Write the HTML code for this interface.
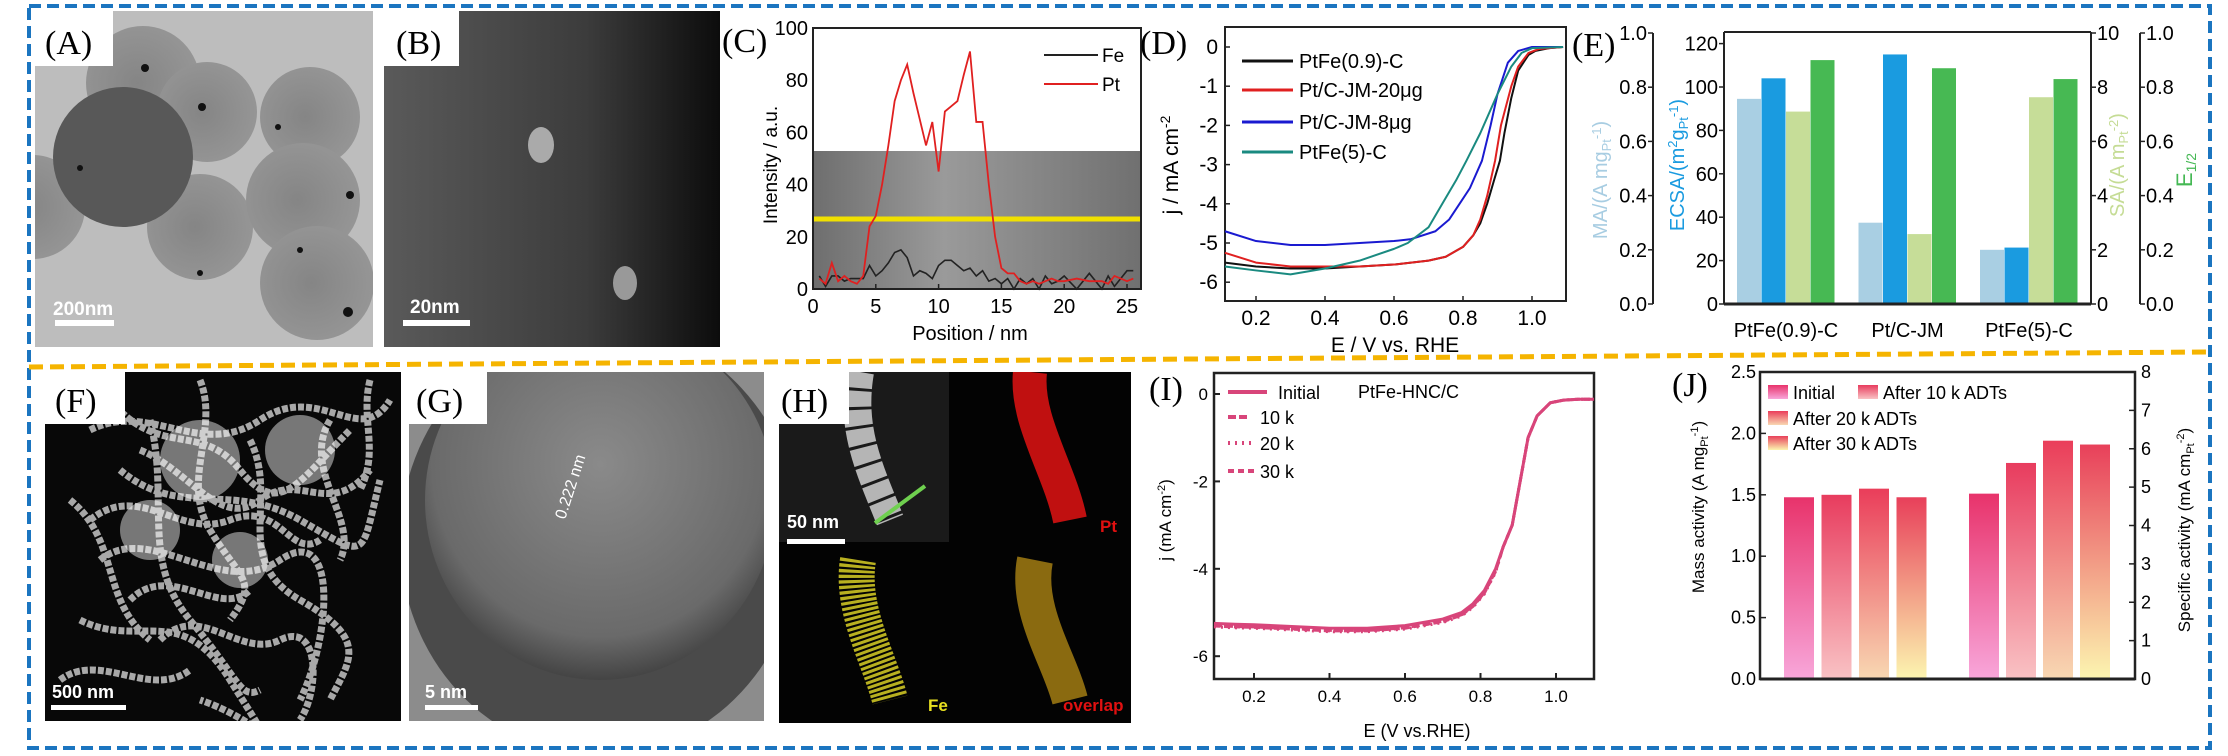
<!DOCTYPE html>
<html><head><meta charset="utf-8"><style>
html,body{margin:0;padding:0;background:#fff;}
svg{display:block;font-family:"Liberation Sans",sans-serif;}
.lbl{font-family:"Liberation Serif",serif;font-size:34px;}
</style></head><body>
<svg id="fig" width="2228" height="756" viewBox="0 0 2228 756">
<defs>
<clipPath id="cA"><rect x="35" y="11" width="338" height="336"/></clipPath>
<clipPath id="cB"><rect x="384" y="11" width="336" height="336"/></clipPath>
<clipPath id="cF"><rect x="45" y="372" width="356" height="349"/></clipPath>
<clipPath id="cG"><rect x="409" y="372" width="355" height="349"/></clipPath>
<clipPath id="cH"><rect x="779" y="372" width="352" height="351"/></clipPath>
<radialGradient id="gA" cx="0.45" cy="0.5" r="0.7"><stop offset="0" stop-color="#858585"/><stop offset="1" stop-color="#9a9a9a"/></radialGradient>
<linearGradient id="gB" x1="0" x2="1"><stop offset="0" stop-color="#5a5a5a"/><stop offset="0.6" stop-color="#3c3c3c"/><stop offset="1" stop-color="#0c0c0c"/></linearGradient>
<radialGradient id="gG" cx="0.5" cy="0.4" r="0.6"><stop offset="0" stop-color="#8a8a8a"/><stop offset="0.8" stop-color="#6a6a6a"/><stop offset="1" stop-color="#444"/></radialGradient>
<linearGradient id="gC" x1="0" x2="1"><stop offset="0" stop-color="#6e6e6e"/><stop offset="0.4" stop-color="#9a9a9a"/><stop offset="1" stop-color="#707070"/></linearGradient>
<linearGradient id="b0" x1="0" y1="0" x2="0" y2="1"><stop offset="0" stop-color="#e8336b"/><stop offset="1" stop-color="#f8a6da"/></linearGradient>
<linearGradient id="b1" x1="0" y1="0" x2="0" y2="1"><stop offset="0" stop-color="#e83c5e"/><stop offset="1" stop-color="#f9c2c4"/></linearGradient>
<linearGradient id="b2" x1="0" y1="0" x2="0" y2="1"><stop offset="0" stop-color="#ea3d5a"/><stop offset="1" stop-color="#f8d8b2"/></linearGradient>
<linearGradient id="b3" x1="0" y1="0" x2="0" y2="1"><stop offset="0" stop-color="#e8405a"/><stop offset="1" stop-color="#fcf5b0"/></linearGradient>
</defs>

<rect x="29" y="6" width="2181" height="742" fill="none" stroke="#1b75c0" stroke-width="4" stroke-dasharray="12 6"/>
<line x1="29" y1="367" x2="2210" y2="352" stroke="#f5b400" stroke-width="5" stroke-dasharray="14 7"/>

<!-- A -->
<g>
<g clip-path="url(#cA)">
<rect x="35" y="11" width="338" height="336" fill="#bdbdbd"/>
<circle cx="143" cy="83" r="57" fill="url(#gA)"/><circle cx="207" cy="112" r="50" fill="url(#gA)"/>
<circle cx="310" cy="117" r="50" fill="url(#gA)"/><circle cx="33" cy="207" r="52" fill="url(#gA)"/>
<circle cx="200" cy="227" r="53" fill="url(#gA)"/><circle cx="303" cy="200" r="57" fill="url(#gA)"/>
<circle cx="317" cy="283" r="57" fill="url(#gA)"/><circle cx="123" cy="157" r="70" fill="#585858"/>
<g fill="#111"><circle cx="145" cy="68" r="4"/><circle cx="202" cy="107" r="4"/><circle cx="278" cy="127" r="3"/><circle cx="80" cy="168" r="3"/><circle cx="350" cy="195" r="4"/><circle cx="348" cy="312" r="5"/><circle cx="300" cy="250" r="3"/><circle cx="200" cy="273" r="3"/></g>
</g>
<rect x="35" y="11" width="78" height="55" fill="#fff"/>
<text class="lbl" x="45" y="54">(A)</text>
<rect x="55" y="320" width="59" height="6" fill="#fff"/>
<text x="53" y="315" fill="#fff" font-size="19" font-weight="bold">200nm</text>
</g>
<!-- B -->
<g>
<g clip-path="url(#cB)">
<rect x="384" y="11" width="336" height="336" fill="url(#gB)"/>
<ellipse cx="541" cy="145" rx="13" ry="18" fill="#aaa"/><ellipse cx="625" cy="283" rx="12" ry="17" fill="#999"/>
</g>
<rect x="384" y="11" width="75" height="55" fill="#fff"/>
<text class="lbl" x="396" y="54">(B)</text>
<rect x="403" y="320" width="67" height="6" fill="#fff"/>
<text x="410" y="313" fill="#fff" font-size="19" font-weight="bold">20nm</text>
</g>

<!-- C -->
<g id="panelC">
<text class="lbl" x="722" y="52">(C)</text>
<rect x="813" y="151" width="328" height="138" fill="url(#gC)"/>
<line x1="813" y1="219" x2="1141" y2="219" stroke="#f0e000" stroke-width="5"/>
<rect x="813" y="28" width="328" height="261" fill="none" stroke="#222" stroke-width="2"/>
<text transform="translate(777,165) rotate(-90)" text-anchor="middle" font-size="19">Intensity / a.u.</text>
<text x="970" y="340" text-anchor="middle" font-size="20">Position / nm</text>
<line x1="1044" y1="55" x2="1098" y2="55" stroke="#222" stroke-width="2"/>
<text x="1102" y="62" font-size="19">Fe</text>
<line x1="1044" y1="84" x2="1098" y2="84" stroke="#e02020" stroke-width="2"/>
<text x="1102" y="91" font-size="19">Pt</text>
</g>

<!-- D -->
<g id="panelD">
<text class="lbl" x="1140" y="54">(D)</text>
<rect x="1225" y="27" width="341" height="274" fill="none" stroke="#222" stroke-width="2"/>
<text transform="translate(1178,165) rotate(-90)" text-anchor="middle" font-size="21">j / mA cm<tspan dy="-8" font-size="14">-2</tspan></text>
<text x="1395" y="352" text-anchor="middle" font-size="21">E / V vs. RHE</text>
</g>

<!-- E -->
<g id="panelE">
<text class="lbl" x="1572" y="56">(E)</text>
<line x1="1724" y1="32" x2="2091" y2="32" stroke="#222" stroke-width="2"/>
<line x1="1724" y1="32" x2="1724" y2="304" stroke="#222" stroke-width="2"/>
<text transform="translate(1607,180) rotate(-90)" text-anchor="middle" font-size="20" fill="#a8cde2">MA/(A mg<tspan font-size="13" dy="4">Pt</tspan><tspan font-size="13" dy="-10">-1</tspan><tspan dy="6">)</tspan></text>
<text transform="translate(1684,165) rotate(-90)" text-anchor="middle" font-size="20" fill="#1a9be0">ECSA/(m<tspan font-size="13" dy="-7">2</tspan><tspan dy="7">g</tspan><tspan font-size="13" dy="4">Pt</tspan><tspan font-size="13" dy="-10">-1</tspan><tspan dy="6">)</tspan></text>
<text transform="translate(2124,165) rotate(-90)" text-anchor="middle" font-size="20" fill="#c5dc95">SA/(A m<tspan font-size="13" dy="4">Pt</tspan><tspan font-size="13" dy="-10">-2</tspan><tspan dy="6">)</tspan></text>
<text transform="translate(2192,170) rotate(-90)" text-anchor="middle" font-size="22" fill="#45b854">E<tspan font-size="14" dy="4">1/2</tspan></text>
</g>

<!-- F -->
<g>
<g clip-path="url(#cF)">
<rect x="45" y="372" width="356" height="349" fill="#080808"/>
<g fill="none" stroke="#d0d0d0" stroke-width="7" stroke-dasharray="6 2" opacity="0.8">
<path d="M90 430 C150 400 200 460 260 420 S360 450 390 400"/><path d="M120 470 C180 520 230 480 300 520 S360 560 380 480"/>
<path d="M100 560 C150 520 220 600 280 560 S330 640 300 700"/><path d="M80 620 C140 650 180 600 230 680 S260 720 200 700"/>
<path d="M150 420 C170 500 140 560 190 620 S240 700 260 690"/><path d="M250 440 C280 500 230 560 300 600 S350 660 330 700"/>
<path d="M70 500 C120 540 100 600 150 640"/><path d="M330 420 C300 470 360 520 340 560"/>
<path d="M110 400 C160 460 200 420 240 470 S300 480 350 430"/><path d="M140 450 C190 470 220 530 260 500 S330 520 370 470"/>
<path d="M90 520 C140 480 180 540 230 520 S290 560 320 540"/><path d="M130 600 C170 560 220 620 250 590"/>
<path d="M160 640 C200 600 240 660 280 640 S320 690 300 720"/><path d="M60 680 C100 650 150 700 190 670"/>
<path d="M200 380 C220 430 180 480 210 530 S260 580 230 620"/><path d="M370 380 C360 420 380 450 360 490"/>
</g>
<g fill="#fff" opacity="0.45"><circle cx="200" cy="460" r="40"/><circle cx="300" cy="450" r="35"/><circle cx="150" cy="530" r="30"/><circle cx="240" cy="560" r="28"/></g>
</g>
<rect x="45" y="372" width="80" height="52" fill="#fff"/>
<text class="lbl" x="55" y="412">(F)</text>
<rect x="51" y="705" width="75" height="5" fill="#fff"/>
<text x="52" y="698" fill="#fff" font-size="18" font-weight="bold">500 nm</text>
</g>
<!-- G -->
<g>
<g clip-path="url(#cG)">
<rect x="409" y="372" width="355" height="349" fill="#8c8c8c"/>
<ellipse cx="600" cy="540" rx="200" ry="215" fill="#4a4a4a"/>
<ellipse cx="600" cy="500" rx="175" ry="180" fill="url(#gG)"/>
</g>
<rect x="409" y="372" width="78" height="52" fill="#fff"/>
<text class="lbl" x="416" y="412">(G)</text>
<text transform="translate(565,520) rotate(-72)" fill="#fff" font-size="16">0.222 nm</text>
<rect x="425" y="705" width="53" height="5" fill="#fff"/>
<text x="425" y="698" fill="#fff" font-size="18" font-weight="bold">5 nm</text>
</g>
<!-- H -->
<g>
<g clip-path="url(#cH)">
<rect x="779" y="372" width="352" height="351" fill="#030303"/>
<rect x="779" y="372" width="170" height="170" fill="#1a1a1a"/>
<path d="M860 372 C850 430 870 470 890 520" stroke="#b5b5b5" stroke-width="28" fill="none" stroke-dasharray="16 3"/>
<path d="M1030 372 C1025 420 1060 470 1070 520" stroke="#c01010" stroke-width="34" fill="none"/>
<path d="M858 560 C850 610 880 660 890 700" stroke="#b8b020" stroke-width="36" fill="none" stroke-dasharray="3 2"/>
<path d="M1035 560 C1025 610 1060 660 1070 700" stroke="#8a6a10" stroke-width="36" fill="none"/>
<line x1="875" y1="523" x2="925" y2="486" stroke="#6fd04f" stroke-width="4"/>
</g>
<rect x="779" y="372" width="70" height="52" fill="#fff"/>
<text class="lbl" x="781" y="412">(H)</text>
<rect x="787" y="539" width="58" height="5" fill="#fff"/>
<text x="787" y="528" fill="#fff" font-size="18" font-weight="bold">50 nm</text>
<text x="1100" y="532" fill="#e01010" font-size="17" font-weight="bold">Pt</text>
<text x="928" y="711" fill="#e8e020" font-size="17" font-weight="bold">Fe</text>
<text x="1063" y="711" fill="#e01010" font-size="17" font-weight="bold">overlap</text>
</g>

<!-- I -->
<g id="panelI">
<text class="lbl" x="1149" y="400">(I)</text>
<rect x="1214" y="373" width="380" height="306" fill="none" stroke="#222" stroke-width="2.5"/>
<text transform="translate(1171,520) rotate(-90)" text-anchor="middle" font-size="17">j (mA cm<tspan font-size="11" dy="-6">-2</tspan><tspan dy="6">)</tspan></text>
<text x="1417" y="737" text-anchor="middle" font-size="18">E (V vs.RHE)</text>
<text x="1358" y="398" font-size="18">PtFe-HNC/C</text>
</g>

<!-- J -->
<g id="panelJ">
<text class="lbl" x="1672" y="396">(J)</text>
<rect x="1760" y="372" width="375" height="307" fill="none" stroke="#222" stroke-width="2.5"/>
<text transform="translate(1704,507) rotate(-90)" text-anchor="middle" font-size="17">Mass activity (A mg<tspan font-size="11" dy="4">Pt</tspan><tspan font-size="11" dy="-10">-1</tspan><tspan dy="6">)</tspan></text>
<text transform="translate(2190,530) rotate(-90)" text-anchor="middle" font-size="17">Specific activity (mA cm<tspan font-size="11" dy="4">Pt</tspan><tspan font-size="11" dy="-10">-2</tspan><tspan dy="6">)</tspan></text>
</g>
</svg>
<script>
const NS='http://www.w3.org/2000/svg';
function mk(parent,tag,attrs,txt){const e=document.createElementNS(NS,tag);for(const k in attrs)e.setAttribute(k,attrs[k]);if(txt!==undefined)e.textContent=txt;parent.appendChild(e);return e;}

// ---------- Panel C ----------
const cPos=[0.5,1,1.5,2,2.5,3,3.5,4,4.5,5,5.5,6,6.5,7,7.5,8,8.5,9,9.5,10,10.5,11,11.5,12,12.5,13,13.5,14,14.5,15,15.5,16,16.5,17,17.5,18,18.5,19,19.5,20,21,22,23,23.5,24,25,25.5];
const cPt=[4,2,10,3,5,3,2,5,24,28,40,55,72,80,86,75,65,55,64,45,68,70,72,82,91,64,64,40,20,8,6,6,3,2,3,2,3,4,3,3,4,3,3,2,5,3,4];
const cFe=[5,1,5,5,3,4,4,4,9,5,7,10,14,15,12,5,7,6,4,9,11,11,9,7,8,5,7,3,4,2,4,0,4,2,4,0,5,2,3,5,0,6,0,5,1,7,7];
const cXTicks=[0,5,10,15,20,25];
const cYTicks=[0,20,40,60,80,100];
const cx=v=>813+v*12.56, cy=v=>289-v*2.61;
(function(){const g=document.getElementById('panelC');
 cXTicks.forEach(t=>{const l=mk(g,'line',{x1:cx(t),x2:cx(t),y1:289,y2:284,stroke:'#222','stroke-width':1.5});
  
  
  const s=mk(g,'text',{x:cx(t),y:313,'text-anchor':'middle','font-size':20},String(t));
  
  });
 cYTicks.forEach(t=>{const s=mk(g,'text',{x:808,y:cy(t)+7,'text-anchor':'end','font-size':20},String(t));
  
  });
 const fe=mk(g,'polyline',{points:cPos.map((p,i)=>cx(p)+','+cy(cFe[i])).join(' '),fill:'none',stroke:'#222','stroke-width':1.6});
 
 
 const pt=mk(g,'polyline',{points:cPos.map((p,i)=>cx(p)+','+cy(cPt[i])).join(' '),fill:'none',stroke:'#e02020','stroke-width':1.8});
 
 
})();

// ---------- Panel D ----------
const dNames=['PtFe(0.9)-C','Pt/C-JM-20μg','Pt/C-JM-8μg','PtFe(5)-C'];
const dColors=['#111','#e02020','#1a1ad0','#1a8a80'];
const dE=[[0.11,0.2,0.3,0.4,0.5,0.6,0.7,0.75,0.8,0.83,0.85,0.87,0.89,0.907,0.92,0.94,0.96,0.99,1.01,1.05,1.09],
 [0.11,0.2,0.3,0.4,0.5,0.6,0.7,0.75,0.8,0.83,0.85,0.87,0.893,0.91,0.94,0.96,0.99,1.02,1.09],
 [0.11,0.2,0.3,0.4,0.5,0.6,0.65,0.72,0.76,0.79,0.82,0.855,0.88,0.9,0.93,0.96,1.0,1.09],
 [0.11,0.2,0.3,0.4,0.5,0.6,0.64,0.7,0.74,0.78,0.81,0.85,0.9,0.94,0.97,1.0,1.09]];
const dJ=[[-5.5,-5.6,-5.65,-5.65,-5.6,-5.55,-5.45,-5.35,-5.1,-4.8,-4.5,-4.0,-3.4,-2.9,-2.2,-1.3,-0.6,-0.2,-0.1,-0.03,0],
 [-5.25,-5.5,-5.6,-5.6,-5.6,-5.55,-5.45,-5.35,-5.1,-4.8,-4.4,-3.8,-2.9,-2.0,-1.0,-0.5,-0.15,-0.05,0],
 [-4.7,-4.95,-5.05,-5.05,-5.0,-4.95,-4.9,-4.7,-4.4,-4.0,-3.6,-2.9,-2.0,-1.2,-0.4,-0.1,0,0],
 [-5.6,-5.7,-5.8,-5.65,-5.45,-5.15,-5.0,-4.6,-4.0,-3.4,-2.9,-2.2,-1.2,-0.5,-0.15,-0.03,0]];
const dXTicks=[0.2,0.4,0.6,0.8,1.0];
const dYTicks=[0,-1,-2,-3,-4,-5,-6];
const dx=v=>1256+(v-0.2)*345, dy=v=>47-v*39.2;
(function(){const g=document.getElementById('panelD');
 dXTicks.forEach(t=>{const l=mk(g,'line',{x1:dx(t),x2:dx(t),y1:301,y2:296,stroke:'#222','stroke-width':1.5});
  
  
  const s=mk(g,'text',{x:dx(t),y:325,'text-anchor':'middle','font-size':21},t.toFixed(1));
  
  });
 dYTicks.forEach(t=>{const l=mk(g,'line',{x1:1225,x2:1230,y1:dy(t),y2:dy(t),stroke:'#222','stroke-width':1.5});
  
  
  const s=mk(g,'text',{x:1218,y:dy(t)+7,'text-anchor':'end','font-size':21},String(t));
  
  });
 dNames.forEach((n,i)=>{const p=mk(g,'polyline',{points:dE[i].map((e,k)=>dx(e)+','+dy(dJ[i][k])).join(' '),fill:'none',stroke:dColors[i],'stroke-width':2,'stroke-linejoin':'round'});
  
  
  const ly=[61,90,122,152][i];
  const l=mk(g,'line',{x1:1242,x2:1293,y1:ly,y2:ly,stroke:dColors[i],'stroke-width':3});
  
  
  const s=mk(g,'text',{x:1299,y:ly+7,'font-size':20},n);
  
  });
})();

// ---------- Panel E ----------
const eCats=['PtFe(0.9)-C','Pt/C-JM','PtFe(5)-C'];
const eMA=[0.757,0.30,0.20];
const eECSA=[104,115,26];
const eSA=[7.1,2.58,7.63];
const eE12=[0.90,0.87,0.83];
const eMATicks=[0,0.2,0.4,0.6,0.8,1.0];
const eECSATicks=[0,20,40,60,80,100,120];
const eSATicks=[0,2,4,6,8,10];
const yMA=v=>304-v*271, yEC=v=>304-v*2.17, ySA=v=>304-v*27.1, yE=v=>304-v*271;
(function(){const g=document.getElementById('panelE');
 const axes=[[1653,eMATicks,yMA,v=>v.toFixed(1),'ma'],[1724,eECSATicks,yEC,v=>String(v),'ecsa'],[2091,eSATicks,ySA,v=>String(v),'sa'],[2140,eMATicks,yE,v=>v.toFixed(1),'e-half']];
 axes.forEach(([x,ticks,f,fmt,nm],ai)=>{const right=ai>=2;
  const a=mk(g,'line',{x1:x,x2:x,y1:ai==1||ai==2?32:f(ticks[ticks.length-1]),y2:304,stroke:'#222','stroke-width':2});
  
  
  ticks.forEach(t=>{mk(g,'line',{x1:x,x2:right?x+5:x-5,y1:f(t),y2:f(t),stroke:'#222','stroke-width':1.5});
   const s=mk(g,'text',{x:right?x+6:x-6,y:f(t)+7,'text-anchor':right?'start':'end','font-size':20},fmt(t));
   
   });});
 const series=[[eMA,yMA,'#a9cfe3','ma'],[eECSA,yEC,'#1a9be0','ecsa'],[eSA,ySA,'#c6dd98','sa'],[eE12,yE,'#47b953','e-half']];
 eCats.forEach((c,ci)=>{const cxm=1786+ci*121.5;
  series.forEach(([vals,f,col,nm],si)=>{const x=cxm-49+si*24.5;const y=f(vals[ci]);
   const r=mk(g,'rect',{x:x,y:y,width:24,height:304-y,fill:col});
   
   });
  const s=mk(g,'text',{x:cxm,y:337,'text-anchor':'middle','font-size':20},c);
  
  });
 mk(g,'line',{x1:1724,x2:2091,y1:304,y2:304,stroke:'#222','stroke-width':3});
})();

// ---------- Panel I ----------
const iE=[0.094,0.15,0.2,0.3,0.4,0.5,0.6,0.7,0.75,0.78,0.81,0.84,0.86,0.884,0.905,0.926,0.95,0.985,1.02,1.06,1.1];
const iJ=[-5.25,-5.27,-5.28,-5.32,-5.36,-5.36,-5.3,-5.15,-5.0,-4.8,-4.5,-4.0,-3.5,-3.0,-2.0,-1.0,-0.5,-0.2,-0.14,-0.12,-0.12];
const iSeries=['Initial','10 k','20 k','30 k'];
const iDash=['none','8 3','2 5','6 4'];
const iOffset=[0,-0.05,-0.08,-0.06];
const iXTicks=[0.2,0.4,0.6,0.8,1.0];
const iYTicks=[0,-2,-4,-6];
const ix=v=>1254+(v-0.2)*377.5, iy=v=>394-v*43.7;
(function(){const g=document.getElementById('panelI');
 iXTicks.forEach(t=>{mk(g,'line',{x1:ix(t),x2:ix(t),y1:679,y2:673,stroke:'#222','stroke-width':2});
  const s=mk(g,'text',{x:ix(t),y:702,'text-anchor':'middle','font-size':17},t.toFixed(1));
  
  });
 iYTicks.forEach(t=>{mk(g,'line',{x1:1214,x2:1220,y1:iy(t),y2:iy(t),stroke:'#222','stroke-width':2});
  const s=mk(g,'text',{x:1208,y:iy(t)+6,'text-anchor':'end','font-size':17},String(t));
  
  });
 iSeries.forEach((n,si)=>{const p=mk(g,'polyline',{points:iE.map((e,k)=>ix(e)+','+iy(iJ[k]+(e<0.85?iOffset[si]:0))).join(' '),fill:'none',stroke:'#d8457a','stroke-width':3,'stroke-dasharray':iDash[si]});
  
  
  const ly=[392,417,443,471][si];
  mk(g,'line',{x1:1228,x2:si==0?1267:(si==1?1247:1255),y1:ly,y2:ly,stroke:'#d8457a','stroke-width':4,'stroke-dasharray':si?iDash[si]:'none'});
  const s=mk(g,'text',{x:si?1260:1278,y:ly+7,'font-size':18},n);
  
  });
})();

// ---------- Panel J ----------
const jSeries=['Initial','After 10 k ADTs','After 20 k ADTs','After 30 k ADTs'];
const jMass=[1.48,1.50,1.55,1.48];
const jSpecific=[4.83,5.63,6.21,6.11];
const jLeftTicks=[0,0.5,1.0,1.5,2.0,2.5];
const jRightTicks=[0,1,2,3,4,5,6,7,8];
const jyL=v=>679-v*122.8, jyR=v=>679-v*38.375;
(function(){const g=document.getElementById('panelJ');
 jLeftTicks.forEach(t=>{mk(g,'line',{x1:1760,x2:1766,y1:jyL(t),y2:jyL(t),stroke:'#222','stroke-width':1.5});
  const s=mk(g,'text',{x:1756,y:jyL(t)+6,'text-anchor':'end','font-size':18},t.toFixed(1));
  
  });
 jRightTicks.forEach(t=>{mk(g,'line',{x1:2135,x2:2129,y1:jyR(t),y2:jyR(t),stroke:'#222','stroke-width':1.5});
  const s=mk(g,'text',{x:2141,y:jyR(t)+6,'font-size':18},String(t));
  
  });
 jSeries.forEach((n,i)=>{
  const y1=jyL(jMass[i]);
  const r1=mk(g,'rect',{x:1784+i*37.5,y:y1,width:30,height:679-y1,fill:'url(#b'+i+')'});
  
  
  const y2=jyR(jSpecific[i]);
  const r2=mk(g,'rect',{x:1969+i*37,y:y2,width:30,height:679-y2,fill:'url(#b'+i+')'});
  
  
  const lx=i==1?1858:1768, ly=i==0||i==1?392:(i==2?418:443);
  mk(g,'rect',{x:lx,y:ly-7,width:20,height:14,fill:'url(#b'+i+')'});
  const s=mk(g,'text',{x:lx+(i==1?25:25),y:ly+7,'font-size':18},n);
  
  });
 mk(g,'line',{x1:1760,x2:2135,y1:679,y2:679,stroke:'#222','stroke-width':3});
})();
</script>
</body></html>
